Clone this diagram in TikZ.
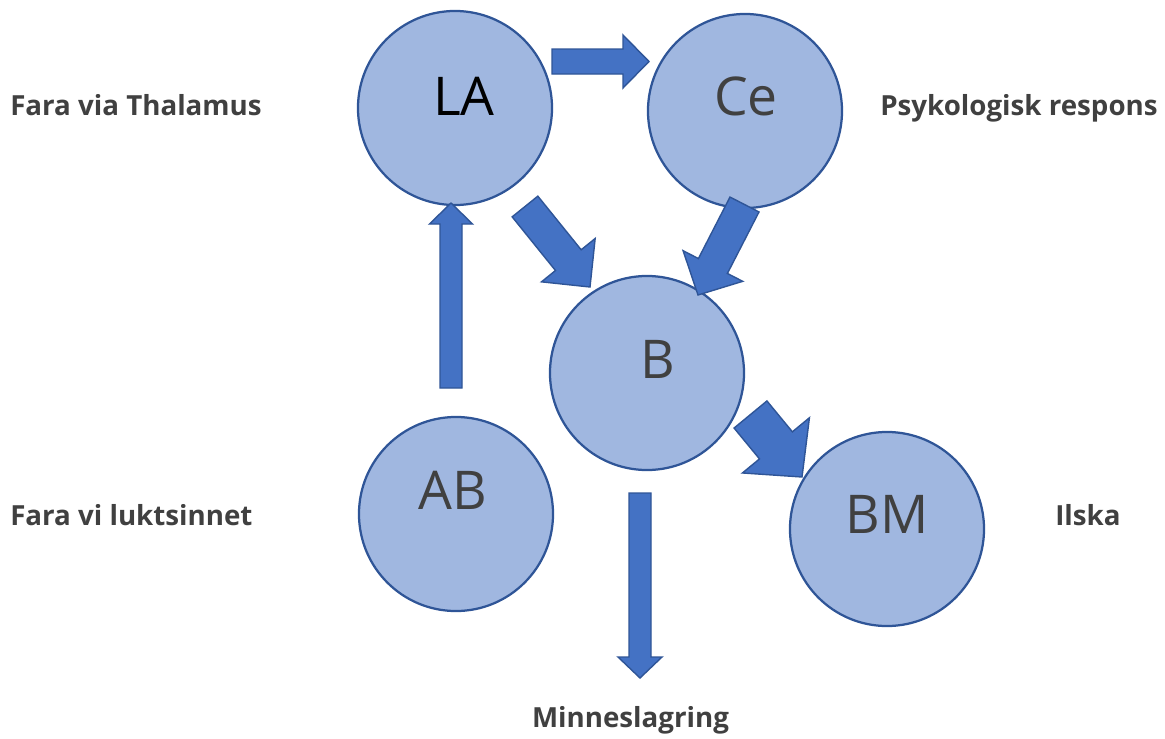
\documentclass[tikz,border=0pt]{standalone}
\usepackage{fontspec}
\setmainfont{Open Sans}
\usetikzlibrary{calc}

\definecolor{circfill}{HTML}{A0B7E0}
\definecolor{circline}{HTML}{2F5597}
\definecolor{arrfill}{HTML}{4472C4}
\definecolor{txtgray}{HTML}{404040}

\tikzset{
  circ/.style={circle,draw=circline,fill=circfill,line width=1.6pt,minimum size=4.85cm,inner sep=0pt},
  circtext/.style={anchor=base,inner sep=0pt,text=txtgray,font=\fontsize{38}{40}\selectfont},
  sidetext/.style={anchor=base west,inner sep=0pt,text=txtgray,font=\bfseries\fontsize{19.7}{22}\selectfont},
  arrowbox/.style={draw=circline,fill=arrfill,line width=1pt,line join=miter}
}

% block arrow: tail, tip, half shaft, half head, head length (all in px)
\newcommand{\blockarrow}[5]{%
  \path ($(#2)!#5*0.025cm!(#1)$) coordinate (hb);
  \draw[arrowbox] ($(#1)!#3*0.025cm!-90:(#2)$) -- ($(hb)!#3*0.025cm!90:(#1)$)
    -- ($(hb)!#4*0.025cm!90:(#1)$) -- (#2) -- ($(hb)!#4*0.025cm!-90:(#1)$)
    -- ($(hb)!#3*0.025cm!-90:(#1)$) -- ($(#1)!#3*0.025cm!90:(#2)$) -- cycle;
}

\begin{document}
\begin{tikzpicture}[x=0.025cm,y=-0.025cm]
        \useasboundingbox (0,0) rectangle (1165,738);

        \begin{scope}[every node/.style={circ}]
          \node (la) at (455,108) {};
          \node (ce) at (745,111) {};
          \node (b)  at (647,373) {};
          \node (ab) at (456,514) {};
          \node (bm) at (887,529) {};
        \end{scope}

        \node[circtext,text=black] (la-t) at (464,115) {LA};
        \node[circtext] (ce-t) at (746,115) {Ce};
        \node[circtext] (b-t)  at (658,378) {B};
        \node[circtext] (ab-t) at (453,509) {AB};
        \node[circtext] (bm-t) at (887,533) {BM};

        \begin{scope}[every node/.style={sidetext}]
          \node (thal)  at (10,115)  {Fara via Thalamus};
          \node (psyk)  at (880,115) {Psykologisk respons};
          \node (lukt)  at (10,525)  {Fara vi luktsinnet};
          \node (ilska) at (1055,525) {Ilska};
          \node[anchor=base] (minne) at (630.5,727) {Minneslagring};
        \end{scope}

        % arrow ends
        \coordinate (la-ce-a) at (552,61.5);
        \coordinate (la-ce-b) at (649,61.5);
        \coordinate (ab-la-a) at (451,388);
        \coordinate (ab-la-b) at (451,203);
        \coordinate (la-b-a)  at (525,206.5);
        \coordinate (la-b-b)  at (590,287);
        \coordinate (ce-b-a)  at (744.5,204.5);
        \coordinate (ce-b-b)  at (698,295);
        \coordinate (b-bm-a)  at (750.5,414.5);
        \coordinate (b-bm-b)  at (802,477);
        \coordinate (b-mi-a)  at (640,493);
        \coordinate (b-mi-b)  at (640,678);

        \blockarrow{la-ce-a}{la-ce-b}{12.5}{26.5}{26}
        \blockarrow{ab-la-a}{ab-la-b}{11}{21.5}{21}
        \blockarrow{la-b-a}{la-b-b}{16.5}{34.5}{34.5}
        \blockarrow{ce-b-a}{ce-b-b}{16.3}{33.5}{32.6}
        \blockarrow{b-bm-a}{b-bm-b}{21.3}{43.4}{41}
        \blockarrow{b-mi-a}{b-mi-b}{11}{22}{21}

      \end{tikzpicture}
\end{document}
